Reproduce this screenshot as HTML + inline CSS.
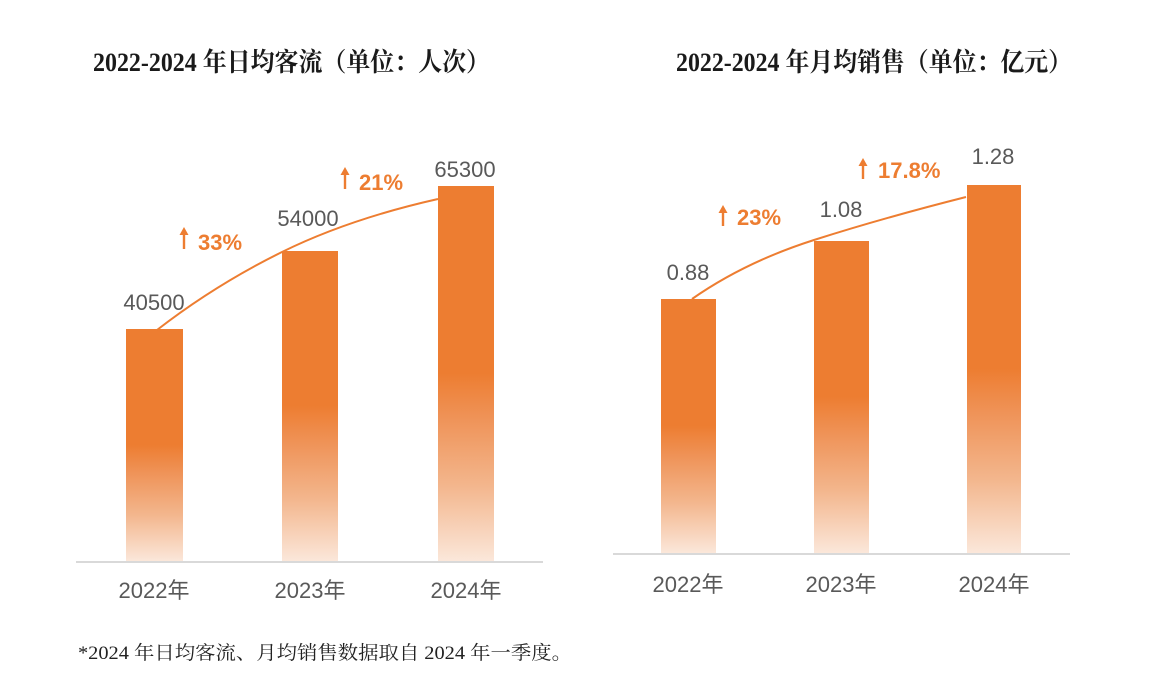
<!DOCTYPE html>
<html><head><meta charset="utf-8"><style>
html,body{margin:0;padding:0;background:#fff;}
svg{display:block;}
</style></head><body>
<svg width="1175" height="697" viewBox="0 0 1175 697" xmlns="http://www.w3.org/2000/svg">
<defs>
<linearGradient id="g" x1="0" y1="0" x2="0" y2="1">
<stop offset="0" stop-color="#ED7D31"/>
<stop offset="0.5" stop-color="#ED7D31"/>
<stop offset="0.62" stop-color="#EF9358"/>
<stop offset="0.8" stop-color="#F3B68D"/>
<stop offset="1" stop-color="#FBE7DA"/>
</linearGradient>
</defs>
<rect width="1175" height="697" fill="#fff"/>

<!-- Titles -->
<text x="93" y="71" font-family="'Liberation Serif','Noto Serif CJK SC',serif" font-weight="bold" font-size="26" fill="#1a1a1a" textLength="397" lengthAdjust="spacingAndGlyphs">2022-2024 年日均客流（单位：人次）</text>
<text x="676" y="71" font-family="'Liberation Serif','Noto Serif CJK SC',serif" font-weight="bold" font-size="26" fill="#1a1a1a" textLength="396" lengthAdjust="spacingAndGlyphs">2022-2024 年月均销售（单位：亿元）</text>

<!-- Left chart -->
<line x1="76" y1="562" x2="543" y2="562" stroke="#d9d9d9" stroke-width="2"/>
<rect x="126" y="329" width="57" height="232" fill="url(#g)"/>
<rect x="282" y="251" width="56" height="310" fill="url(#g)"/>
<rect x="438" y="186" width="56" height="375" fill="url(#g)"/>
<path d="M157,330 Q215,285 282,252 T438,199" fill="none" stroke="#ED7D31" stroke-width="2"/>

<g font-family="'Liberation Sans','Noto Sans CJK SC',sans-serif" font-size="22" fill="#595959" text-anchor="middle">
<text x="154" y="310">40500</text>
<text x="308" y="226">54000</text>
<text x="465" y="177">65300</text>
<text x="154" y="598">2022年</text>
<text x="310" y="598">2023年</text>
<text x="466" y="598">2024年</text>
</g>
<g font-family="'Liberation Sans',sans-serif" font-size="22" font-weight="bold" fill="#ED7D31">
<text x="198" y="250">33%</text>
<text x="359" y="190">21%</text>
</g>
<g stroke="#ED7D31" stroke-width="2.4" fill="#ED7D31">
<line x1="184" y1="233" x2="184" y2="249"/>
<path d="M179.5,235 L184,227 L188.5,235 Z" stroke="none"/>
<line x1="345" y1="173" x2="345" y2="189"/>
<path d="M340.5,175 L345,167 L349.5,175 Z" stroke="none"/>
</g>

<!-- Right chart -->
<line x1="613" y1="554" x2="1070" y2="554" stroke="#d9d9d9" stroke-width="2"/>
<rect x="661" y="299" width="55" height="254" fill="url(#g)"/>
<rect x="814" y="241" width="55" height="312" fill="url(#g)"/>
<rect x="967" y="185" width="54" height="368" fill="url(#g)"/>
<path d="M692,299 Q745,262 814,240 T966,197" fill="none" stroke="#ED7D31" stroke-width="2"/>

<g font-family="'Liberation Sans','Noto Sans CJK SC',sans-serif" font-size="22" fill="#595959" text-anchor="middle">
<text x="688" y="280">0.88</text>
<text x="841" y="217">1.08</text>
<text x="993" y="164">1.28</text>
<text x="688" y="592">2022年</text>
<text x="841" y="592">2023年</text>
<text x="994" y="592">2024年</text>
</g>
<g font-family="'Liberation Sans',sans-serif" font-size="22" font-weight="bold" fill="#ED7D31">
<text x="737" y="225">23%</text>
<text x="878" y="178">17.8%</text>
</g>
<g stroke="#ED7D31" stroke-width="2.4" fill="#ED7D31">
<line x1="723" y1="211" x2="723" y2="226"/>
<path d="M718.5,213 L723,205 L727.5,213 Z" stroke="none"/>
<line x1="863" y1="164" x2="863" y2="179"/>
<path d="M858.5,166 L863,158 L867.5,166 Z" stroke="none"/>
</g>

<!-- Footnote -->
<text x="78" y="659" font-family="'Liberation Serif','Noto Serif CJK SC',serif" font-size="19" fill="#222" textLength="494" lengthAdjust="spacingAndGlyphs">*2024 年日均客流、月均销售数据取自 2024 年一季度。</text>
</svg>
</body></html>
